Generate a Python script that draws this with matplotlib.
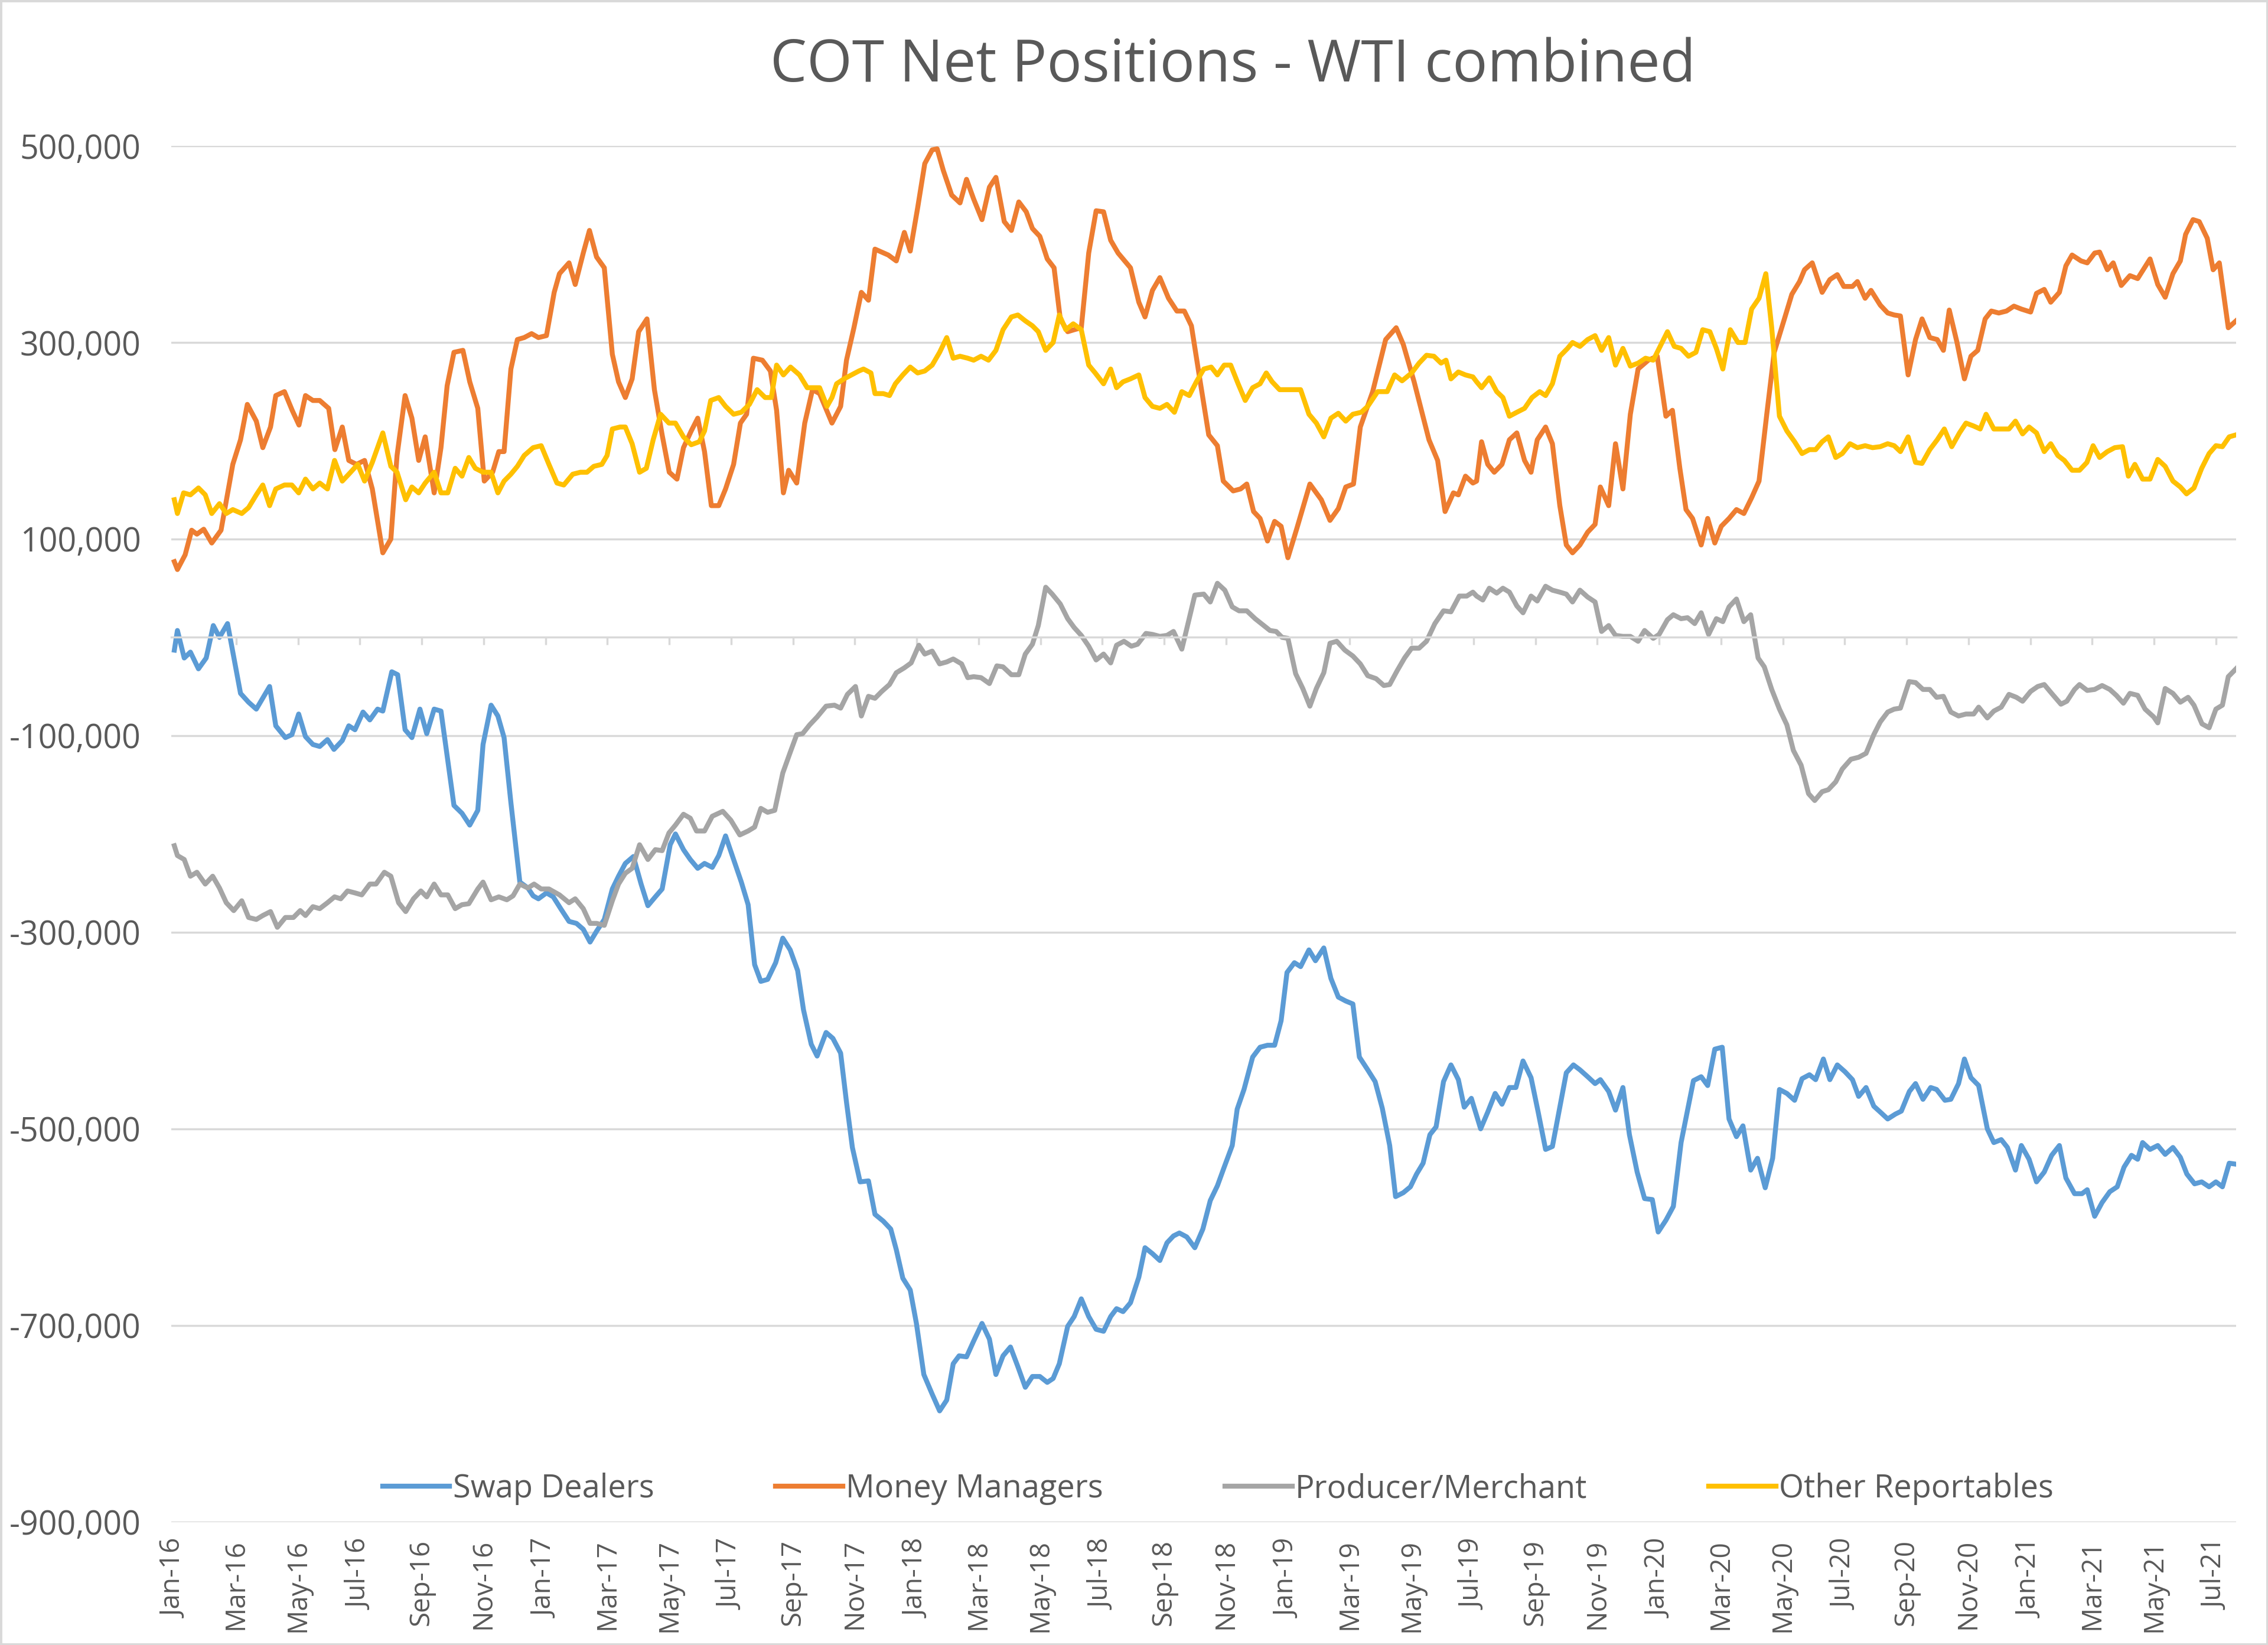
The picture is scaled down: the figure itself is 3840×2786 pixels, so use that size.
import numpy as np
import matplotlib.pyplot as plt
from matplotlib.patches import Rectangle

# x = months since Jan-2016, y = net position in thousands of contracts
swap_m = [0.0, 0.10, 0.32, 0.52, 0.78, 1.03, 1.26, 1.46, 1.72, 2.14, 2.40, 2.65, 3.08, 3.28, 3.59, 3.80,
          4.02, 4.24, 4.48, 4.70, 4.95, 5.16, 5.43, 5.64, 5.84, 6.10, 6.32, 6.57, 6.74, 7.03, 7.22, 7.46,
          7.68, 7.94, 8.16, 8.40, 8.62, 9.04, 9.30, 9.55, 9.81, 9.98, 10.24, 10.46, 10.66, 10.88, 11.17,
          11.43, 11.60, 11.77, 12.03, 12.25, 12.49, 12.76, 13.00, 13.22, 13.44, 13.65, 13.90, 14.16,
          14.36, 14.58, 14.84, 15.09, 15.31, 15.55, 15.77, 16.03, 16.20, 16.46, 16.68, 16.92, 17.14,
          17.39, 17.60, 17.82, 18.08, 18.33, 18.55, 18.76, 18.96, 19.18, 19.44, 19.67, 19.91, 20.15,
          20.34, 20.59, 20.78, 21.07, 21.29, 21.54, 21.73, 21.92, 22.17, 22.44, 22.65, 22.92, 23.16,
          23.34, 23.55, 23.79, 23.99, 24.23, 24.50, 24.74, 24.97, 25.18, 25.37, 25.61, 25.84, 26.11,
          26.35, 26.56, 26.79, 27.03, 27.27, 27.51, 27.74, 27.98, 28.22, 28.41, 28.61, 28.88, 29.09,
          29.32, 29.56, 29.80, 30.04, 30.27, 30.46, 30.67, 30.91, 31.18, 31.38, 31.62, 31.86, 32.09,
          32.30, 32.49, 32.73, 32.99, 33.25, 33.49, 33.72, 33.94, 34.20, 34.36, 34.58, 34.86, 35.10,
          35.34, 35.57, 35.78, 35.97, 36.21, 36.41, 36.68, 36.89, 37.16, 37.39, 37.63, 37.87, 38.10,
          38.31, 38.58, 38.82, 39.05, 39.29, 39.48, 39.73, 39.96, 40.16, 40.37, 40.59, 40.79, 41.03,
          41.27, 41.51, 41.70, 41.93, 42.23, 42.46, 42.70, 42.92, 43.16, 43.37, 43.60, 43.86, 44.09,
          44.33, 44.55, 44.76, 45.00, 45.23, 45.44, 45.69, 45.93, 46.10, 46.37, 46.59, 46.83, 47.04,
          47.29, 47.53, 47.78, 47.97, 48.22, 48.46, 48.71, 48.92, 49.11, 49.36, 49.57, 49.80, 50.04,
          50.26, 50.50, 50.71, 50.96, 51.18, 51.43, 51.67, 51.89, 52.13, 52.38, 52.62, 52.86, 53.06,
          53.31, 53.52, 53.76, 54.01, 54.25, 54.45, 54.69, 54.94, 55.15, 55.39, 55.64, 55.83, 56.09,
          56.29, 56.53, 56.78, 56.97, 57.24, 57.43, 57.68, 57.87, 58.08, 58.33, 58.61, 58.82, 59.06,
          59.26, 59.52, 59.71, 59.96, 60.20, 60.45, 60.69, 60.94, 61.15, 61.43, 61.67, 61.84, 62.08,
          62.32, 62.57, 62.81, 63.03, 63.27, 63.47, 63.63, 63.87, 64.12, 64.36, 64.61, 64.85, 65.06,
          65.31, 65.54, 65.78, 66.00, 66.21, 66.43, 66.65]
swap_k = [-13, 7, -21, -15, -32, -21, 12, 0, 14, -57, -66, -73, -50, -90, -102, -99,
          -78, -101, -109, -111, -104, -114, -105, -90, -94, -76, -84, -73, -75, -35, -38, -94,
          -102, -73, -98, -73, -75, -171, -179, -191, -176, -109, -69, -80, -102, -168, -249,
          -255, -263, -266, -260, -264, -276, -289, -291, -297, -310, -299, -287, -256,
          -243, -230, -223, -251, -273, -264, -256, -211, -200, -216, -226, -235, -230,
          -234, -222, -202, -226, -249, -272, -333, -350, -348, -331, -306, -318, -339,
          -379, -414, -426, -402, -408, -423, -473, -519, -554, -553, -587, -594, -602,
          -623, -652, -664, -698, -750, -770, -787, -776, -739, -731, -732, -716, -698,
          -714, -750, -731, -722, -742, -763, -752, -752, -758, -754, -739, -701, -691,
          -673, -691, -704, -706, -691, -683, -686, -677, -651, -621, -627, -634, -616,
          -609, -606, -610, -621, -602, -573, -558, -539, -517, -480, -460, -427, -417,
          -415, -415, -390, -341, -331, -335, -318, -329, -316, -347, -366, -370, -373,
          -427, -440, -452, -479, -517, -569, -565, -559, -546, -535, -506, -498, -452,
          -435, -450, -478, -469, -500, -483, -464, -475, -458, -458, -431, -448, -483,
          -521, -518, -483, -443, -435, -440, -447, -454, -450, -462, -481, -458, -506,
          -544, -571, -572, -605, -593, -579, -514, -481, -451, -447, -456, -419, -417,
          -490, -508, -497, -542, -530, -560, -530, -460, -464, -471, -449, -445, -450,
          -429, -450, -435, -442, -450, -467, -458, -477, -483, -490, -485, -482, -462,
          -454, -470, -458, -460, -471, -470, -454, -429, -448, -456, -500, -514, -511,
          -519, -542, -517, -531, -554, -544, -527, -517, -550, -566, -566, -562, -589,
          -575, -564, -559, -539, -527, -531, -514, -521, -517, -526, -519, -529, -546,
          -556, -554, -559, -554, -559, -535, -536]

money_m = [0.0, 0.10, 0.35, 0.56, 0.73, 0.95, 1.21, 1.51, 1.89, 2.14, 2.36, 2.65, 2.86, 3.11, 3.28, 3.56,
           3.81, 4.03, 4.24, 4.48, 4.70, 4.99, 5.19, 5.43, 5.64, 5.89, 6.15, 6.40, 6.74, 7.00, 7.20, 7.46,
           7.68, 7.90, 8.11, 8.40, 8.62, 8.82, 9.04, 9.33, 9.55, 9.81, 10.02, 10.29, 10.49, 10.66, 10.88,
           11.09, 11.31, 11.55, 11.77, 12.03, 12.28, 12.45, 12.76, 12.96, 13.22, 13.42, 13.65, 13.90,
           14.16, 14.36, 14.58, 14.80, 15.01, 15.28, 15.52, 15.77, 16.00, 16.25, 16.46, 16.71, 16.92,
           17.14, 17.36, 17.60, 17.82, 18.08, 18.30, 18.50, 18.72, 19.01, 19.27, 19.47, 19.69, 19.86,
           20.12, 20.38, 20.63, 20.86, 21.26, 21.54, 21.73, 21.97, 22.21, 22.44, 22.65, 23.08, 23.34,
           23.60, 23.79, 24.03, 24.26, 24.50, 24.66, 24.86, 25.13, 25.40, 25.61, 25.84, 26.11, 26.35,
           26.56, 26.83, 27.06, 27.30, 27.54, 27.74, 27.98, 28.22, 28.44, 28.64, 28.88, 29.09, 29.32,
           29.56, 29.80, 30.04, 30.27, 30.51, 30.91, 31.18, 31.38, 31.62, 31.86, 32.14, 32.41, 32.65,
           32.88, 33.12, 33.44, 33.72, 33.91, 34.23, 34.47, 34.67, 34.89, 35.10, 35.34, 35.57, 35.78,
           36.00, 36.29, 36.71, 37.08, 37.36, 37.63, 37.87, 38.12, 38.34, 38.74, 39.16, 39.50, 39.73,
           40.08, 40.56, 40.84, 41.08, 41.35, 41.51, 41.74, 41.98, 42.10, 42.26, 42.46, 42.67, 42.92,
           43.16, 43.40, 43.65, 43.86, 44.06, 44.33, 44.55, 44.79, 45.00, 45.20, 45.44, 45.69, 45.93,
           46.10, 46.37, 46.59, 46.83, 47.07, 47.32, 47.65, 47.94, 48.22, 48.43, 48.67, 48.87, 49.08,
           49.36, 49.57, 49.80, 50.01, 50.26, 50.50, 50.74, 50.99, 51.23, 51.48, 51.72, 52.05, 52.29,
           52.54, 52.70, 52.95, 53.27, 53.52, 53.76, 53.97, 54.25, 54.41, 54.66, 54.85, 55.15, 55.39,
           55.60, 55.80, 56.05, 56.29, 56.50, 56.75, 56.99, 57.19, 57.38, 57.63, 57.87, 58.08, 58.30,
           58.54, 58.74, 58.98, 59.23, 59.47, 59.71, 60.01, 60.20, 60.45, 60.66, 60.94, 61.15, 61.35,
           61.64, 61.84, 62.08, 62.24, 62.49, 62.68, 62.94, 63.22, 63.47, 63.87, 64.12, 64.36, 64.61,
           64.85, 65.02, 65.26, 65.46, 65.72, 65.91, 66.11, 66.40, 66.65]
money_k = [77, 69, 84, 109, 105, 110, 96, 109, 176, 201, 237, 220, 193, 214, 246, 250,
           231, 216, 246, 241, 241, 233, 191, 214, 180, 176, 180, 151, 86, 100, 185, 246,
           223, 180, 204, 147, 193, 256, 290, 292, 260, 233, 159, 168, 189, 189, 273,
           303, 305, 309, 305, 307, 351, 370, 381, 359, 391, 414, 387, 376,
           288, 260, 244, 263, 311, 324, 252, 206, 168, 161, 193, 210, 223,
           189, 134, 134, 151, 176, 218, 227, 284, 282, 271, 231, 147, 170,
           157, 218, 252, 248, 218, 235, 282, 315, 351, 343, 395, 389, 383,
           412, 393, 437, 482, 496, 497, 475, 450, 442, 466, 446, 425, 458,
           468, 423, 414, 443, 433, 416, 408, 385, 376, 324, 311, 313, 315,
           391, 434, 433, 404, 391, 376, 341, 326, 353, 366, 345, 332, 332,
           317, 269, 206, 195, 159, 149, 151, 156, 128, 121, 98, 118, 113,
           81, 111, 156, 140, 119, 131, 153, 156, 214, 250, 303, 315, 298,
           260, 201, 180, 128, 147, 145, 164, 157, 159, 199, 176, 168, 176,
           201, 208, 180, 168, 201, 214, 197, 134, 94, 86, 94, 107, 115,
           153, 134, 197, 151, 227, 273, 282, 286, 225, 231, 172, 130, 121,
           94, 121, 96, 113, 121, 130, 126, 142, 159, 227, 290, 324, 349,
           362, 374, 381, 351, 364, 369, 357, 357, 362, 345, 353, 338, 330,
           328, 327, 267, 303, 324, 305, 303, 292, 333, 300, 263, 286, 292,
           324, 332, 330, 332, 337, 334, 331, 350, 354, 341, 351, 378, 389,
           383, 381, 391, 392, 374, 381, 358, 368, 365, 385, 359, 346, 370,
           383, 410, 425, 423, 406, 374, 381, 315, 322]

producer_m = [0.0, 0.10, 0.32, 0.52, 0.73, 1.00, 1.24, 1.46, 1.68, 1.92, 2.18, 2.40, 2.65, 2.86, 3.11,
              3.33, 3.59, 3.85, 4.07, 4.24, 4.48, 4.70, 4.95, 5.18, 5.38, 5.60, 5.84, 6.06, 6.32, 6.52,
              6.79, 7.00, 7.25, 7.48, 7.73, 7.97, 8.16, 8.40, 8.62, 8.84, 9.08, 9.30, 9.52, 9.81, 9.98,
              10.24, 10.49, 10.75, 10.95, 11.17, 11.43, 11.63, 11.86, 12.11, 12.45, 12.76, 12.96, 13.22,
              13.44, 13.65, 13.90, 14.16, 14.36, 14.58, 14.80, 15.04, 15.31, 15.55, 15.77, 15.99, 16.20,
              16.46, 16.68, 16.88, 17.14, 17.39, 17.73, 17.99, 18.28, 18.55, 18.76, 18.96, 19.18, 19.41,
              19.67, 19.91, 20.12, 20.31, 20.54, 20.78, 21.07, 21.34, 21.54, 21.76, 22.02, 22.21, 22.44,
              22.65, 22.87, 23.12, 23.34, 23.60, 23.82, 24.07, 24.26, 24.50, 24.74, 24.97, 25.18, 25.45,
              25.65, 25.84, 26.08, 26.35, 26.59, 26.79, 27.06, 27.30, 27.51, 27.74, 27.93, 28.17, 28.38,
              28.64, 28.88, 29.09, 29.32, 29.56, 29.80, 30.04, 30.27, 30.46, 30.70, 30.94, 31.14, 31.41,
              31.62, 31.86, 32.09, 32.30, 32.57, 32.77, 32.99, 33.28, 33.49, 33.72, 33.96, 34.20, 34.42,
              34.67, 34.94, 35.18, 35.42, 35.62, 35.81, 36.00, 36.25, 36.48, 36.71, 36.92, 37.16, 37.36,
              37.58, 37.84, 38.10, 38.34, 38.58, 38.85, 39.10, 39.29, 39.53, 39.77, 40.00, 40.24, 40.48,
              40.75, 41.03, 41.27, 41.54, 41.78, 41.98, 42.10, 42.30, 42.51, 42.75, 42.95, 43.16, 43.40,
              43.60, 43.86, 44.06, 44.33, 44.55, 44.79, 45.00, 45.20, 45.44, 45.69, 45.93, 46.14, 46.37,
              46.59, 46.83, 47.07, 47.32, 47.53, 47.81, 48.00, 48.27, 48.46, 48.71, 48.92, 49.15, 49.36,
              49.60, 49.85, 50.06, 50.26, 50.50, 50.74, 50.96, 51.20, 51.40, 51.64, 51.89, 52.13, 52.34,
              52.59, 52.83, 53.03, 53.27, 53.47, 53.71, 53.92, 54.20, 54.45, 54.69, 54.94, 55.15, 55.39,
              55.60, 55.80, 56.08, 56.29, 56.53, 56.75, 56.97, 57.19, 57.43, 57.68, 57.92, 58.17, 58.33,
              58.61, 58.82, 59.06, 59.31, 59.55, 59.75, 60.01, 60.24, 60.45, 60.69, 60.99, 61.18, 61.43,
              61.59, 61.84, 62.08, 62.32, 62.57, 62.78, 63.01, 63.22, 63.47, 63.71, 63.99, 64.12, 64.36,
              64.61, 64.85, 65.10, 65.29, 65.55, 65.78, 66.00, 66.21, 66.40, 66.65]
producer_k = [-212, -222, -226, -243, -239, -251, -243, -255, -270, -278, -268, -285, -287, -283, -279,
              -295, -285, -285, -278, -283, -274, -276, -270, -264, -266, -258, -260, -262, -251, -251,
              -239, -243, -270, -279, -266, -258, -264, -251, -262, -262, -276, -272, -271, -256, -249,
              -267, -264, -267, -263, -251, -255, -251, -256, -256, -262, -270, -266, -276,
              -291, -291, -293, -268, -251, -240, -235, -211, -226, -216, -217, -199, -191,
              -180, -184, -197, -197, -182, -177, -186, -201, -197, -193, -174, -178, -176,
              -138, -117, -99, -98, -89, -81, -70, -69, -72, -58, -50, -80, -60,
              -62, -55, -48, -36, -31, -26, -8, -17, -14, -27, -25, -22, -27,
              -41, -40, -41, -47, -29, -30, -38, -38, -17, -7, 12, 51, 44,
              34, 19, 10, 2, -9, -23, -17, -26, -8, -4, -9, -7, 4,
              3, 1, 2, 6, -12, 14, 43, 44, 36, 55, 48, 31, 27,
              27, 19, 13, 7, 6, 0, -1, -37, -52, -70, -52, -36, -6,
              -4, -13, -19, -27, -39, -42, -49, -48, -34, -21, -11, -11, -4,
              14, 27, 26, 42, 42, 46, 42, 38, 50, 45, 50, 46, 32,
              25, 42, 37, 52, 48, 46, 44, 36, 48, 41, 36, 6, 12,
              2, 1, 1, -4, 7, -1, 3, 18, 23, 19, 20, 14, 25,
              3, 19, 16, 31, 39, 16, 23, -21, -30, -53, -73, -89, -115,
              -130, -159, -166, -157, -155, -147, -134, -124, -122, -118, -99, -86, -76,
              -73, -72, -45, -46, -53, -53, -61, -60, -76, -80, -78, -78, -71,
              -82, -75, -71, -58, -61, -65, -55, -50, -48, -57, -68, -65, -53,
              -48, -54, -53, -49, -53, -59, -67, -57, -59, -73, -81, -87, -52,
              -57, -66, -61, -69, -88, -92, -73, -69, -40, -32]

other_m = [0.0, 0.10, 0.30, 0.52, 0.78, 1.00, 1.21, 1.46, 1.68, 1.89, 2.18, 2.40, 2.65, 2.86, 3.08, 3.28,
           3.56, 3.80, 4.02, 4.24, 4.48, 4.70, 4.95, 5.18, 5.43, 5.64, 5.93, 6.15, 6.40, 6.74, 7.00, 7.20,
           7.48, 7.68, 7.90, 8.11, 8.40, 8.62, 8.84, 9.08, 9.30, 9.52, 9.73, 9.98, 10.24, 10.46, 10.66,
           10.88, 11.09, 11.31, 11.60, 11.86, 12.11, 12.37, 12.59, 12.88, 13.13, 13.34, 13.56, 13.82,
           13.99, 14.16, 14.41, 14.58, 14.80, 15.04, 15.26, 15.48, 15.72, 15.99, 16.20, 16.46, 16.71,
           16.97, 17.14, 17.34, 17.60, 17.82, 18.08, 18.33, 18.59, 18.84, 19.10, 19.30, 19.47, 19.69,
           19.92, 20.21, 20.46, 20.72, 20.86, 21.10, 21.26, 21.41, 21.65, 21.89, 22.13, 22.28, 22.52,
           22.65, 22.92, 23.12, 23.31, 23.55, 23.79, 24.03, 24.26, 24.50, 24.74, 24.97, 25.18, 25.40,
           25.65, 25.84, 26.08, 26.32, 26.56, 26.79, 27.06, 27.27, 27.51, 27.74, 27.93, 28.17, 28.41,
           28.61, 28.82, 29.06, 29.32, 29.56, 29.77, 30.04, 30.27, 30.46, 30.67, 30.91, 31.18, 31.38,
           31.62, 31.86, 32.09, 32.33, 32.57, 32.81, 33.04, 33.28, 33.52, 33.72, 33.94, 34.15, 34.39,
           34.62, 34.86, 35.10, 35.30, 35.49, 35.73, 35.97, 36.21, 36.41, 36.68, 36.92, 37.16, 37.39,
           37.63, 37.87, 38.10, 38.37, 38.58, 38.90, 39.21, 39.45, 39.69, 40.00, 40.24, 40.48, 40.72,
           40.95, 41.11, 41.27, 41.51, 41.74, 41.98, 42.10, 42.26, 42.51, 42.75, 42.95, 43.16, 43.40,
           43.65, 43.89, 44.14, 44.33, 44.55, 44.79, 45.04, 45.20, 45.44, 45.69, 45.93, 46.14, 46.37,
           46.59, 46.83, 47.07, 47.32, 47.56, 47.81, 48.00, 48.27, 48.49, 48.71, 48.95, 49.19, 49.41,
           49.64, 49.85, 50.06, 50.30, 50.55, 50.78, 50.99, 51.23, 51.45, 51.64, 51.89, 52.13, 52.38,
           52.62, 52.86, 53.06, 53.27, 53.47, 53.71, 53.92, 54.17, 54.41, 54.66, 54.90, 55.15, 55.39,
           55.60, 55.80, 56.05, 56.29, 56.50, 56.75, 56.99, 57.22, 57.46, 57.71, 57.92, 58.17, 58.38,
           58.57, 58.82, 59.06, 59.31, 59.52, 59.75, 59.96, 60.20, 60.45, 60.66, 60.89, 61.10, 61.35,
           61.59, 61.83, 62.03, 62.24, 62.49, 62.73, 62.98, 63.17, 63.38, 63.63, 63.87, 64.12, 64.36,
           64.61, 64.85, 65.05, 65.29, 65.54, 65.78, 66.00, 66.21, 66.43, 66.65]
other_k = [140, 126, 147, 145, 152, 145, 126, 136, 126, 130, 126, 132, 145, 155, 134, 151,
           155, 155, 147, 161, 151, 157, 151, 180, 159, 166, 176, 159, 178, 208, 174, 168,
           140, 153, 147, 157, 168, 147, 147, 172, 164, 183, 172, 168, 168, 147, 159,
           166, 174, 185, 193, 195, 176, 157, 155, 166, 168, 168, 174, 176,
           185, 212, 214, 214, 197, 168, 172, 201, 227, 218, 218, 204, 196,
           199, 210, 241, 244, 235, 227, 229, 237, 252, 244, 244, 277, 267,
           275, 267, 254, 254, 254, 235, 244, 258, 263, 267, 271, 273, 269,
           248, 248, 246, 258, 267, 275, 269, 271, 277, 290, 305, 284, 286,
           284, 282, 286, 282, 292, 313, 326, 328, 322, 317, 311, 292, 300,
           328, 313, 319, 313, 277, 269, 258, 273, 254, 260, 263, 267, 244,
           235, 233, 237, 229, 250, 246, 260, 273, 275, 267, 277, 277, 258,
           241, 254, 258, 269, 260, 252, 252, 252, 252, 227, 218, 204, 223,
           228, 220, 227, 229, 235, 250, 250, 267, 261, 269, 279, 287, 286,
           279, 282, 263, 270, 267, 265, 260, 254, 264, 250, 244, 225, 229,
           233, 244, 250, 246, 258, 286, 294, 300, 296, 303, 307, 292, 305,
           277, 294, 276, 279, 284, 282, 294, 311, 296, 294, 286, 290, 313,
           311, 294, 273, 313, 300, 300, 334, 345, 370, 315, 225, 210, 199,
           187, 191, 191, 199, 204, 183, 187, 197, 193, 195, 193, 194, 197,
           195, 189, 204, 178, 177, 191, 201, 212, 194, 208, 218, 215, 212,
           227, 212, 212, 212, 220, 207, 214, 208, 189, 197, 185, 180, 170,
           170, 178, 195, 183, 189, 193, 194, 164, 176, 161, 161, 181, 174,
           159, 153, 146, 152, 172, 187, 195, 194, 204, 206]

tick_labels = ["Jan-16", "Mar-16", "May-16", "Jul-16", "Sep-16", "Nov-16",
               "Jan-17", "Mar-17", "May-17", "Jul-17", "Sep-17", "Nov-17",
               "Jan-18", "Mar-18", "May-18", "Jul-18", "Sep-18", "Nov-18",
               "Jan-19", "Mar-19", "May-19", "Jul-19", "Sep-19", "Nov-19",
               "Jan-20", "Mar-20", "May-20", "Jul-20", "Sep-20", "Nov-20",
               "Jan-21", "Mar-21", "May-21", "Jul-21"]
tick_pos = np.arange(len(tick_labels)) * 2
ytick_vals = list(range(-900000, 500001, 200000))

series = [("Swap Dealers", swap_m, swap_k, "#5B9BD5"),
          ("Money Managers", money_m, money_k, "#ED7D31"),
          ("Producer/Merchant", producer_m, producer_k, "#A5A5A5"),
          ("Other Reportables", other_m, other_k, "#FFC000")]

plt.rcParams['font.family'] = ['Open Sans', 'DejaVu Sans']
txt = "#595959"
grid = "#d9d9d9"

fig = plt.figure(figsize=(38.4, 27.86), dpi=100)
ax = fig.add_axes([0.0755, 0.0748, 0.9104, 0.8365])

for name, m, k, c in series:
    ax.plot(m, np.array(k) * 1000, color=c, lw=6, label=name, solid_joinstyle="round")

ax.set_xlim(-0.1, 66.65)
ax.set_ylim(-900000, 500000)
ax.set_yticks(ytick_vals, [f"{v:,}" for v in ytick_vals])
ax.grid(axis="y", color=grid, lw=2.5)
ax.set_axisbelow(True)
ax.tick_params(axis="y", length=0, pad=37, labelsize=40, labelcolor=txt)
for s in ["left", "right", "top"]:
    ax.spines[s].set_visible(False)

# category axis crosses at zero, labels stay at the bottom
ax.spines["bottom"].set_position(("data", 0))
ax.spines["bottom"].set_color(grid)
ax.spines["bottom"].set_linewidth(2.5)
ax.set_xticks(tick_pos)
ax.tick_params(axis="x", direction="out", length=9, width=2.5, color=grid, labelbottom=False)

sec = ax.secondary_xaxis("bottom")
sec.set_xticks(tick_pos, tick_labels, rotation=90, fontsize=33, color=txt)
sec.tick_params(length=0, pad=21)
sec.spines["bottom"].set_visible(False)

ax.legend(loc="center", bbox_to_anchor=(0.507, 0.024), ncol=4, frameon=False, fontsize=39,
          handlelength=2.1, handletextpad=0.1, columnspacing=3.8, labelcolor=txt)

fig.text(0.5435, 0.9505, "COT Net Positions - WTI combined", ha="center", va="baseline",
         fontsize=71, color=txt)

fig.patches.append(Rectangle((0, 0), 1, 1, transform=fig.transFigure, fill=False,
                             edgecolor=grid, lw=5))

fig.savefig("out.png", dpi=100)
